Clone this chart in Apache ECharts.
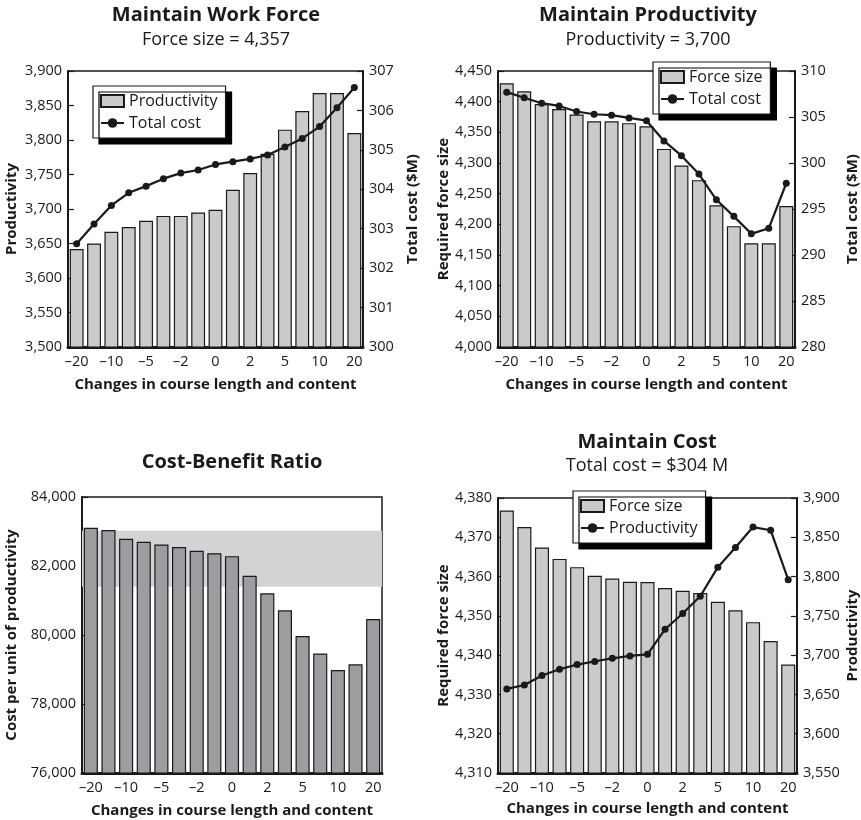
<!DOCTYPE html>
<html>
<head>
<meta charset="utf-8">
<script src="https://cdn.jsdelivr.net/npm/echarts@6/dist/echarts.min.js"></script>
<style>
html,body{margin:0;padding:0;background:#fff;}
#c{width:861px;height:820px;}
</style>
</head>
<body>
<div id="c"></div>
<script>
// ---------- data ----------
const categories = [-20,-15,-10,-7,-5,-3,-2,-1,0,1,2,3,5,7,10,15,20];

// Maintain Work Force (force size = 4,357)
const wfProductivity = [3642,3650,3667,3674,3683,3690,3690,3695,3699,3728,3752,3780,3815,3842,3868,3868,3810];
const wfTotalCost = [302.62,303.12,303.59,303.91,304.08,304.27,304.41,304.49,304.63,304.70,304.77,304.87,305.07,305.29,305.59,306.07,306.58];

// Maintain Productivity (productivity = 3,700)
const mpForceSize = [4430,4417,4396,4388,4379,4368,4368,4365,4360,4323,4296,4272,4231,4197,4169,4169,4230];
const mpTotalCost = [307.7,307.1,306.5,306.2,305.6,305.3,305.2,304.9,304.6,302.4,300.8,298.8,296.0,294.2,292.3,292.9,297.8];

// Cost-Benefit Ratio
const cbRatio = [83110,83040,82790,82700,82625,82550,82440,82370,82285,81715,81210,80715,79970,79465,78985,79150,80465];
const cbBand = [81400, 83020];

// Maintain Cost (total cost = $304 M)
const mcForceSize = [4376.8,4372.6,4367.4,4364.5,4362.4,4360.2,4359.5,4358.7,4358.6,4357.1,4356.4,4355.8,4353.6,4351.4,4348.4,4343.6,4337.6];
const mcProductivity = [3657,3662,3674,3682,3688,3692,3696,3699,3701,3733,3753,3775,3812,3837,3863,3859,3796];

// ---------- chart ----------
const FONT = '"Open Sans", "Noto Sans", sans-serif';
const INK = '#1a1a1a';
const LIGHT = '#c9cacc';
const DARK = '#9c9da1';
const fmtNum = v => Number(v).toLocaleString('en-US');
const fmtCat = v => { const n = Number(v); return n < 0 ? '\u2013' + Math.abs(n) : String(n); };

const grids = [
  {left: 68, top: 71, width: 295, height: 276},
  {left: 498, top: 71, width: 299, height: 276},
  {left: 82, top: 497, width: 300, height: 276},
  {left: 498, top: 498, width: 299, height: 275}
].map(g => Object.assign(g, {show: true, borderColor: INK, borderWidth: 1.5, backgroundColor: 'transparent'}));

function xAxisFor(i, gap) {
  return {
    type: 'category', gridIndex: i, data: categories.map(String),
    axisLine: {show: true, onZero: false, lineStyle: {color: INK, width: 3}},
    axisTick: {show: false},
    axisLabel: {interval: 1, formatter: fmtCat, color: INK, fontFamily: FONT, fontSize: 14.5, margin: 7},
    name: 'Changes in course length and content', nameLocation: 'middle', nameGap: gap,
    nameTextStyle: {fontFamily: FONT, fontWeight: 'bold', fontSize: 15, color: INK}
  };
}
function yAxisFor(i, pos, min, max, interval, name, gap, fmt) {
  return {
    type: 'value', gridIndex: i, position: pos, min, max, interval,
    splitLine: {show: false},
    axisLine: {show: true, lineStyle: {color: INK, width: 2}},
    axisTick: {show: true, inside: true, length: 6, lineStyle: {color: INK, width: 1.2}},
    axisLabel: {formatter: fmt || fmtNum, color: INK, fontFamily: FONT, fontSize: 14.5, margin: 6},
    name, nameLocation: 'middle', nameGap: gap, nameRotate: 90,
    nameTextStyle: {fontFamily: FONT, fontWeight: 'bold', fontSize: 15, color: INK}
  };
}

const barStyle = c => ({color: c, borderColor: INK, borderWidth: 1.2});
const lineSeries = (name, x, y, data) => ({
  name, type: 'line', xAxisIndex: x, yAxisIndex: y, data, z: 5,
  symbol: 'circle', symbolSize: 7, showSymbol: true,
  lineStyle: {color: INK, width: 2.2}, itemStyle: {color: INK}
});
const barSeries = (name, x, y, data, color) => ({
  name, type: 'bar', xAxisIndex: x, yAxisIndex: y, data, z: 3,
  barCategoryGap: '20%', itemStyle: barStyle(color)
});

const labelMap = {
  wf_bar: 'Productivity', wf_line: 'Total cost',
  mp_bar: 'Force size', mp_line: 'Total cost',
  mc_bar: 'Force size', mc_line: 'Productivity'
};
const legendFor = (names, left, top) => ({
  data: [{name: names[0], icon: 'rect'}, names[1]], left, top, orient: 'vertical',
  backgroundColor: '#fff', borderColor: INK, borderWidth: 1.2,
  shadowColor: '#000', shadowBlur: 0, shadowOffsetX: 6, shadowOffsetY: 6,
  padding: [7, 8, 7, 7], itemGap: 6, itemWidth: 23, itemHeight: 12,
  selectedMode: false, z: 10,
  formatter: n => labelMap[n],
  textStyle: {fontFamily: FONT, fontSize: 16, color: INK}
});

const titleText = (x, y, text, bold) => ({
  type: 'text', x, y,
  style: {text, fill: INK, align: 'center', verticalAlign: 'middle',
    font: (bold ? 'bold 20px ' : '18px ') + FONT}
});

const option = {
  animation: false,
  backgroundColor: '#fff',
  grid: grids,
  xAxis: [xAxisFor(0, 30), xAxisFor(1, 30), xAxisFor(2, 30), xAxisFor(3, 28)],
  yAxis: [
    yAxisFor(0, 'left', 3500, 3900, 50, 'Productivity', 49),
    yAxisFor(0, 'right', 300, 307, 1, 'Total cost ($M)', 42, v => String(v)),
    yAxisFor(1, 'left', 4000, 4450, 50, 'Required force size', 43),
    yAxisFor(1, 'right', 280, 310, 5, 'Total cost ($M)', 50, v => String(v)),
    yAxisFor(2, 'left', 76000, 84000, 2000, 'Cost per unit of productivity', 63),
    yAxisFor(3, 'left', 4310, 4380, 10, 'Required force size', 43),
    yAxisFor(3, 'right', 3550, 3900, 50, 'Productivity', 48)
  ],
  legend: [
    legendFor(['wf_bar', 'wf_line'], 93, 86),
    legendFor(['mp_bar', 'mp_line'], 653, 62),
    legendFor(['mc_bar', 'mc_line'], 573, 491)
  ],
  series: [
    barSeries('wf_bar', 0, 0, wfProductivity, LIGHT),
    lineSeries('wf_line', 0, 1, wfTotalCost),
    barSeries('mp_bar', 1, 2, mpForceSize, LIGHT),
    lineSeries('mp_line', 1, 3, mpTotalCost),
    {
      name: 'cb_band', type: 'line', xAxisIndex: 2, yAxisIndex: 4, data: [], z: 1, silent: true,
      markArea: {silent: true, itemStyle: {color: '#d2d3d5'},
        data: [[{yAxis: cbBand[0], x: 82}, {yAxis: cbBand[1], x: 382}]]}
    },
    barSeries('cb_bar', 2, 4, cbRatio, DARK),
    barSeries('mc_bar', 3, 5, mcForceSize, LIGHT),
    lineSeries('mc_line', 3, 6, mcProductivity)
  ],
  graphic: [
    titleText(216, 15, 'Maintain Work Force', true),
    titleText(216, 40, 'Force size = 4,357', false),
    titleText(648, 15, 'Maintain Productivity', true),
    titleText(648, 40, 'Productivity = 3,700', false),
    titleText(232, 462, 'Cost-Benefit Ratio', true),
    titleText(647, 442, 'Maintain Cost', true),
    titleText(647, 466, 'Total cost = $304 M', false)
  ]
};

const chart = echarts.init(document.getElementById('c'), null, {renderer: 'canvas'});
chart.setOption(option);
</script>
</body>
</html>
